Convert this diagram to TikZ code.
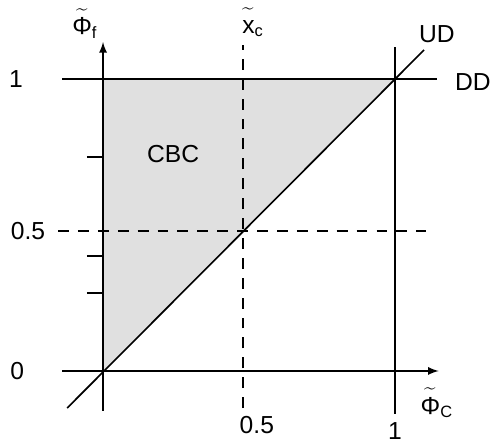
\documentclass[tikz,border=0pt]{standalone}
\usepackage{fontspec}
\setmainfont{Liberation Sans}
\newcommand{\tld}[1]{$\widetilde{\mbox{\rule{0pt}{9.8pt}#1}}$}
\begin{document}
\begin{tikzpicture}[x=5cm, y=5cm, line width=0.8pt, font=\fontsize{12}{14}\selectfont]
            \useasboundingbox (-0.353, -0.247) rectangle (1.336, 1.271);
            \fill[black!12] (0, 0) -- (0, 1) -- (1, 1) -- cycle;
            \draw[-latex] (-0.14, 0) -- (1.15, 0);
            \draw[-latex] (0, -0.137) -- (0, 1.127);
            \draw (-0.14, 1) -- (1.144, 1);
            \draw (1, -0.147) -- (1, 1.11);
            \draw (-0.123, -0.127) -- (1.10, 1.10);
            \draw[dash pattern=on 5.3pt off 4.4pt] (0.48, -0.127) -- (0.48, 1.116);
            \draw[dash pattern=on 5.3pt off 4.4pt] (-0.154, 0.48) -- (1.106, 0.48);
            \foreach \t in {0.733, 0.394, 0.267}
                \draw (-0.055, \t) -- (0, \t);
            \node (one) at (-0.298, 1) {1};
            \node (half) at (-0.257, 0.48) {0.5};
            \node (zero) at (-0.294, 0) {0};
            \node (halfx) at (0.527, -0.185) {0.5};
            \node (onex) at (1.0, -0.205) {1};
            \node (phic) at (1.144, -0.11) {\tld{Φ}\textsubscript{C}};
            \node (phif) at (-0.062, 1.19) {\tld{Φ}\textsubscript{f}};
            \node (xc) at (0.514, 1.195) {\tld{x}\textsubscript{c}};
            \node (ud) at (1.144, 1.155) {UD};
            \node (dd) at (1.267, 0.99) {DD};
            \node (cbc) at (0.24, 0.743) {CBC};
        \end{tikzpicture}
\end{document}
